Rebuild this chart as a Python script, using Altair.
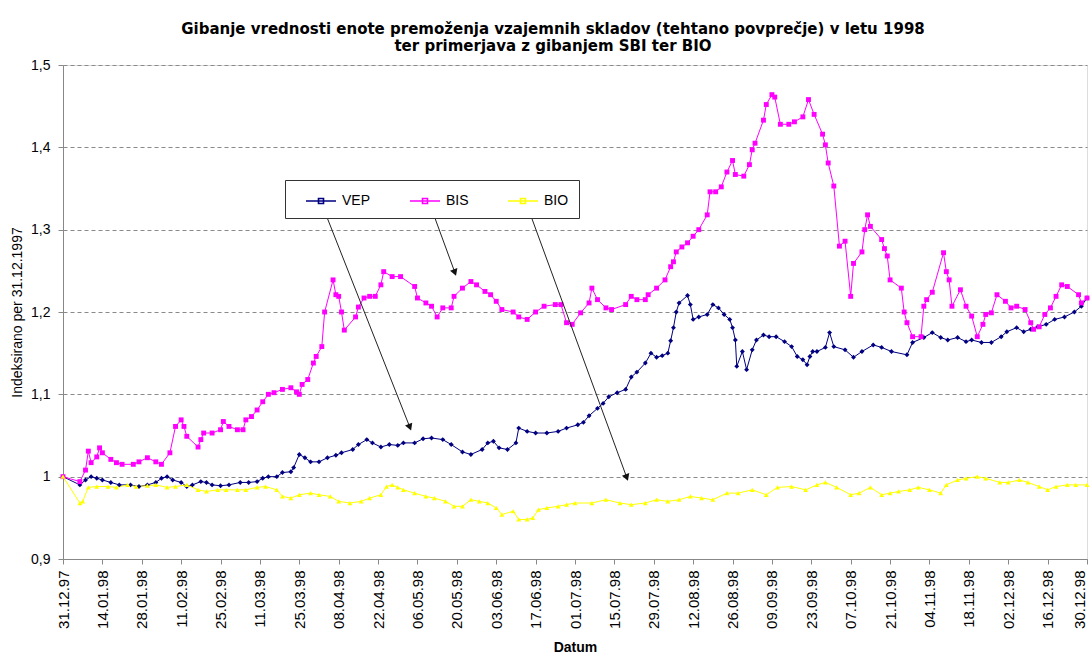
import altair as alt
import pandas as pd

# ---- data (day offset from 31.12.1997, index value) ----
VEP_DAY = [0, 6, 8, 10, 12, 14, 17, 20, 24, 27, 30, 33, 35, 37, 39, 42, 44, 46, 49, 51,
           53, 56, 59, 63, 66, 69, 71, 73, 76, 78, 81, 82, 84, 86, 88, 91, 94, 97, 99, 103,
           105, 108, 110, 113, 116, 119, 121, 125, 128, 131, 135, 138, 142, 145, 149, 151, 153, 155, 158, 161,
           162, 165, 168, 172, 176, 179, 183, 185, 187, 190, 192, 194, 197, 200, 202, 204, 207, 209, 211, 213,
           215, 216, 217, 218, 219, 222, 223, 224, 226, 229, 231, 233, 235, 237, 238, 239, 239.5, 241.5, 243, 245,
           246.5, 249, 251, 253.5, 256.5, 259, 261, 263, 264.5, 265.5, 266.5, 268, 271, 272.5, 274, 278, 281, 284, 288, 291,
           294.5, 300, 302, 306, 309, 312, 314.5, 318, 321, 323, 326.5, 330, 333.5, 335.5, 339, 341.5, 344, 346.5, 349.5, 352.5,
           356, 359.5, 362, 364]
VEP_VAL = [1.000, 0.990, 0.996, 1.000, 0.998, 0.996, 0.993, 0.990, 0.990, 0.988, 0.990, 0.993, 0.998, 1.000, 0.996, 0.993, 0.988, 0.990, 0.994, 0.993,
           0.990, 0.989, 0.990, 0.993, 0.993, 0.994, 0.998, 1.000, 1.000, 1.005, 1.006, 1.011, 1.027, 1.023, 1.018, 1.018, 1.023, 1.026, 1.029, 1.033,
           1.039, 1.045, 1.041, 1.036, 1.039, 1.038, 1.041, 1.041, 1.046, 1.047, 1.045, 1.039, 1.030, 1.027, 1.033, 1.041, 1.043, 1.035, 1.033, 1.041,
           1.059, 1.055, 1.053, 1.053, 1.055, 1.059, 1.063, 1.066, 1.074, 1.083, 1.089, 1.097, 1.102, 1.106, 1.121, 1.127, 1.138, 1.150, 1.145, 1.147,
           1.150, 1.165, 1.181, 1.200, 1.211, 1.220, 1.209, 1.191, 1.194, 1.197, 1.209, 1.205, 1.197, 1.191, 1.181, 1.166, 1.134, 1.152, 1.130, 1.154,
           1.166, 1.172, 1.170, 1.170, 1.164, 1.158, 1.146, 1.142, 1.136, 1.146, 1.152, 1.152, 1.157, 1.175, 1.158, 1.154, 1.145, 1.152, 1.160, 1.157,
           1.152, 1.148, 1.163, 1.169, 1.175, 1.169, 1.166, 1.169, 1.164, 1.166, 1.163, 1.163, 1.170, 1.176, 1.181, 1.176, 1.179, 1.182, 1.185, 1.191,
           1.194, 1.200, 1.207, 1.217]

BIS_DAY = [0, 6, 8, 9, 10, 12, 13, 14, 17, 19, 21, 25, 27, 30, 33, 35, 38, 40, 42, 43,
           44, 48, 49, 50, 53, 56, 57, 59, 62, 64, 65, 67, 69, 71, 73, 75, 78, 81, 83, 84,
           85, 87, 89, 90, 92, 93, 96, 97, 98, 99, 100, 104, 105, 107, 109, 111, 113, 114, 117, 120,
           125, 126, 129, 131, 133, 135, 138, 139, 142, 145, 147, 150, 152, 154, 156, 160, 162, 165, 168, 171,
           175, 177, 179, 181, 184, 187, 188, 190, 193, 195, 200, 202, 204, 207, 208, 211, 214, 216, 217, 218,
           220, 222, 224, 226, 229, 230, 232, 234, 236, 238, 239, 242, 244, 245, 246, 249, 250, 252, 253, 255,
           258, 260, 263, 265, 267, 270, 271, 272, 274, 276, 278, 280, 281, 284, 285, 286, 287, 291, 292, 293,
           294, 298, 299, 300, 302, 305, 306, 307, 309, 313, 314, 315, 316, 319, 321, 323, 325, 327, 328, 330,
           332, 335, 337, 339, 342, 344, 345, 347, 349, 351, 353, 355, 357, 361, 362, 364]
BIS_VAL = [1.000, 0.994, 1.008, 1.031, 1.017, 1.024, 1.035, 1.029, 1.021, 1.017, 1.015, 1.015, 1.018, 1.023, 1.018, 1.015, 1.029, 1.061, 1.069, 1.061,
           1.049, 1.036, 1.045, 1.053, 1.053, 1.057, 1.067, 1.061, 1.057, 1.057, 1.069, 1.073, 1.081, 1.091, 1.100, 1.102, 1.106, 1.108, 1.103, 1.100,
           1.112, 1.118, 1.138, 1.146, 1.158, 1.200, 1.239, 1.221, 1.219, 1.200, 1.178, 1.194, 1.206, 1.217, 1.219, 1.219, 1.233, 1.249, 1.243, 1.243,
           1.231, 1.217, 1.211, 1.207, 1.194, 1.205, 1.205, 1.219, 1.229, 1.237, 1.233, 1.225, 1.221, 1.213, 1.203, 1.200, 1.194, 1.191, 1.200, 1.207,
           1.209, 1.209, 1.187, 1.185, 1.199, 1.211, 1.229, 1.215, 1.205, 1.203, 1.209, 1.219, 1.215, 1.215, 1.221, 1.229, 1.239, 1.255, 1.261, 1.273,
           1.279, 1.284, 1.292, 1.300, 1.318, 1.346, 1.346, 1.352, 1.370, 1.384, 1.367, 1.365, 1.379, 1.397, 1.405, 1.433, 1.452, 1.464, 1.461, 1.428,
           1.428, 1.431, 1.437, 1.458, 1.440, 1.416, 1.403, 1.381, 1.353, 1.280, 1.286, 1.219, 1.259, 1.273, 1.300, 1.318, 1.304, 1.288, 1.277, 1.268,
           1.239, 1.229, 1.200, 1.187, 1.170, 1.170, 1.207, 1.215, 1.224, 1.272, 1.249, 1.239, 1.207, 1.227, 1.207, 1.195, 1.170, 1.185, 1.197, 1.199,
           1.221, 1.213, 1.205, 1.207, 1.203, 1.187, 1.179, 1.182, 1.197, 1.205, 1.219, 1.233, 1.231, 1.221, 1.211, 1.217]

BIO_DAY = [0, 6, 7, 9, 12, 16, 19, 23, 26, 30, 33, 37, 40, 44, 48, 51, 55, 58, 62, 65,
           69, 72, 76, 78, 81, 84, 88, 91, 95, 98, 102, 106, 109, 113, 115, 117, 119, 121, 125, 129,
           132, 136, 139, 142, 145, 148, 151, 154, 156, 160, 162, 165, 167, 169, 172, 176, 179, 182, 188, 193,
           198, 202, 207, 211, 215, 219, 223, 227, 231, 236, 240, 245, 250, 254, 259, 264, 268, 271, 275, 280,
           283, 287, 291, 294, 297, 301, 304, 308, 312, 314, 318, 321, 325, 328, 333, 336, 340, 343, 347, 350,
           353, 357, 360, 364]
BIO_VAL = [1.000, 0.968, 0.970, 0.987, 0.988, 0.988, 0.987, 0.990, 0.988, 0.989, 0.990, 0.987, 0.988, 0.990, 0.984, 0.982, 0.984, 0.984, 0.984, 0.984,
           0.987, 0.988, 0.984, 0.976, 0.974, 0.978, 0.980, 0.978, 0.976, 0.970, 0.968, 0.970, 0.974, 0.978, 0.988, 0.990, 0.987, 0.984, 0.980, 0.976,
           0.974, 0.970, 0.964, 0.964, 0.972, 0.970, 0.968, 0.962, 0.954, 0.958, 0.948, 0.948, 0.950, 0.960, 0.962, 0.964, 0.966, 0.968, 0.968, 0.972,
           0.968, 0.966, 0.968, 0.972, 0.970, 0.972, 0.976, 0.974, 0.972, 0.980, 0.980, 0.984, 0.978, 0.987, 0.988, 0.984, 0.990, 0.993, 0.987, 0.978,
           0.980, 0.987, 0.978, 0.980, 0.982, 0.984, 0.987, 0.984, 0.980, 0.990, 0.996, 0.998, 1.000, 0.998, 0.993, 0.993, 0.996, 0.993, 0.988, 0.984,
           0.988, 0.990, 0.990, 0.990]

SERIES = ["VEP", "BIS", "BIO"]
COLORS = ["#000080", "#FF00FF", "#FFFF00"]
SHAPES = ["diamond", "square", "triangle-up"]
Y_TICKS = [0.9, 1.0, 1.1, 1.2, 1.3, 1.4, 1.5]
TICK_DAYS = list(range(0, 365, 14))  # axis tick every 14 days: 31.12.97 ... 30.12.98

# arrows from the legend to the series (start day/value, end day/value, head angle)
ARROW_SERIES = ["VEP", "BIS", "BIO"]
ARROW_D0 = [91.3, 130.4, 164.8]
ARROW_V0 = [1.337, 1.331, 1.331]
ARROW_D1 = [123.3, 139.3, 200.4]
ARROW_V1 = [1.060, 1.248, 0.999]
ARROW_ANGLE = [158.5, 159.8, 159.9]

TITLE = ["Gibanje vrednosti enote premoženja vzajemnih skladov (tehtano povprečje) v letu 1998",
         "ter primerjava z gibanjem SBI ter BIO"]

BASE = pd.Timestamp("1997-12-31")


def to_dates(days):
    return [BASE + pd.to_timedelta(d, unit="D") for d in days]


rows = []
for name, days, vals in [("VEP", VEP_DAY, VEP_VAL), ("BIS", BIS_DAY, BIS_VAL), ("BIO", BIO_DAY, BIO_VAL)]:
    for dt, v in zip(to_dates(days), vals):
        rows.append({"date": dt, "value": v, "series": name, "marker": name})
df = pd.DataFrame(rows)

arrows = pd.DataFrame({
    "series": ARROW_SERIES,
    "date": to_dates(ARROW_D0),
    "value": ARROW_V0,
    "date2": to_dates(ARROW_D1),
    "value2": ARROW_V1,
})
heads = pd.DataFrame({
    "date": to_dates(ARROW_D1),
    "value": ARROW_V1,
    "angle": ARROW_ANGLE,
})

tick_values = [alt.DateTime(year=d.year, month=d.month, date=d.day) for d in to_dates(TICK_DAYS)]

FONT = "Liberation Sans"

x_enc = alt.X(
    "date:T",
    scale=alt.Scale(domain=[alt.DateTime(year=1997, month=12, date=31),
                            alt.DateTime(year=1998, month=12, date=30)]),
    axis=alt.Axis(values=tick_values, format="%d.%m.%y", labelAngle=-90, title="Datum",
                  grid=False, labelFontSize=15, labelPadding=6, titleFontSize=14,
                  titleFontWeight="bold", titlePadding=12, labelOverlap=False,
                  labelFlush=False,
                  labelBaseline={"condition": {"test": "datum.value > datetime(1998, 11, 25)",
                                               "value": "bottom"},
                                 "value": "middle"}),
)
y_enc = alt.Y(
    "value:Q",
    scale=alt.Scale(domain=[0.9, 1.5], nice=False, zero=False),
    axis=alt.Axis(values=Y_TICKS, labelExpr="replace(format(datum.value, '.1~f'), '.', ',')",
                  title="Indeksirano per 31.12.1997", grid=True, gridDash=[4, 3],
                  gridColor="#8a8a8a", labelFontSize=14, labelPadding=8, titleFontSize=14,
                  titleFontWeight="normal", titlePadding=6),
)

legend = alt.Legend(
    orient="none", legendX=222, legendY=115, direction="horizontal", title=None,
    strokeColor="#333333", fillColor="white", padding=10, cornerRadius=0,
    symbolType="M0,0H3M1.25,-0.25H1.75V0.25H1.25Z", symbolSize=400, symbolStrokeWidth=1.6,
    labelFontSize=14, labelOffset=25, columnPadding=28, labelFont=FONT,
)

lines = alt.Chart(df).mark_line(strokeWidth=1).encode(
    x=x_enc, y=y_enc,
    color=alt.Color("series:N", scale=alt.Scale(domain=SERIES, range=COLORS), legend=legend),
)
points = alt.Chart(df).mark_point(filled=True, size=24, opacity=1).encode(
    x=x_enc, y=y_enc,
    color=alt.Color("marker:N", scale=alt.Scale(domain=SERIES, range=COLORS), legend=None),
    shape=alt.Shape("marker:N", scale=alt.Scale(domain=SERIES, range=SHAPES), legend=None),
)

arrow_lines = alt.Chart(arrows).mark_rule(color="#222222", strokeWidth=1).encode(
    x=x_enc, y=y_enc, x2="date2:T", y2="value2:Q"
)
arrow_heads = alt.Chart(heads).mark_point(
    shape="triangle-up", filled=True, color="#111111", size=60, opacity=1
).encode(
    x=x_enc, y=y_enc,
    angle=alt.Angle("angle:Q", scale=None),
)

chart = alt.layer(lines, points, arrow_lines, arrow_heads).resolve_scale(
    color="independent", shape="independent"
).properties(
    width=1024, height=494,
    autosize=alt.AutoSizeParams(type="none"),
    padding={"left": 63, "top": 65, "right": 3, "bottom": 97},
    title=alt.TitleParams(text=TITLE, fontSize=15, fontWeight="bold", anchor="middle",
                          offset=4, dx=-22, lineHeight=17, font="DejaVu Sans", color="#000000"),
).configure_view(
    stroke="#9a9a9a", strokeWidth=1
).configure_axis(
    domainColor="#555555", tickColor="#555555", tickSize=5, labelColor="#333333",
    titleColor="#222222", labelFont=FONT, titleFont=FONT
).configure(background="white")

chart.save("out.html", embed_options={"renderer": "svg", "actions": False})
